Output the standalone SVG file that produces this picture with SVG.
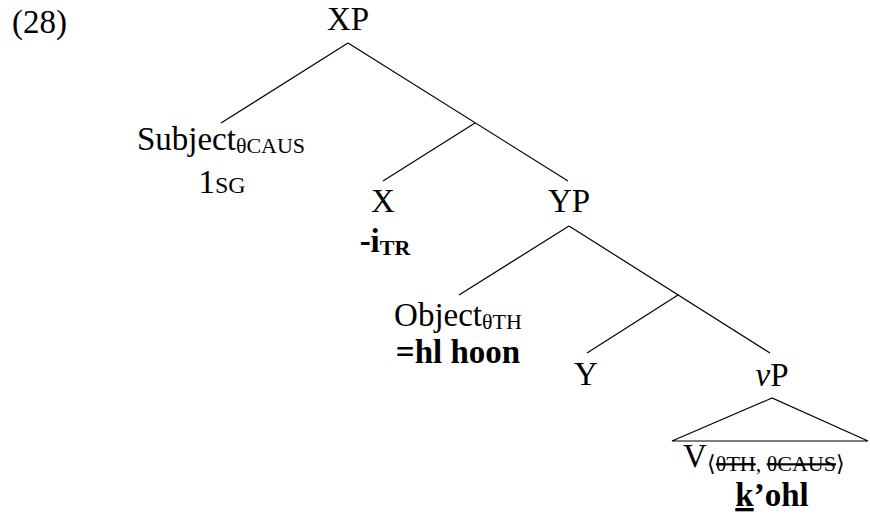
<svg xmlns="http://www.w3.org/2000/svg" width="870" height="519" viewBox="0 0 870 519">
<style>
text{font-family:"Liberation Serif","Times New Roman",serif;font-size:33px;fill:#000}
.m{text-anchor:middle}
.b{font-weight:bold}
.sub{font-size:22px}
.sc{font-size:24px}
.st{text-decoration:line-through}
.ul{text-decoration:underline}
#edges line,#edges polygon{stroke:#000;stroke-width:1.2;fill:none}
</style>
<rect width="870" height="519" fill="#fff"/>
<text x="12" y="33">(28)</text>
<g id="edges">
<line x1="348" y1="43" x2="221" y2="123"/>
<line x1="348" y1="43" x2="568" y2="181"/>
<line x1="475" y1="123" x2="383" y2="181"/>
<line x1="569" y1="226" x2="459" y2="295"/>
<line x1="569" y1="226" x2="770" y2="353"/>
<line x1="678" y1="295" x2="587" y2="353"/>
<polygon points="772,398 672,441 868,441"/>
</g>
<g id="XP"><text class="m" x="348" y="30">XP</text></g>
<g id="Subject"><text class="m" x="221" y="150">Subject<tspan class="sub" dy="3">θCAUS</tspan></text>
<text class="m" x="222" y="193">1<tspan class="sc">SG</tspan></text></g>
<g id="X"><text class="m" x="383" y="212">X</text>
<text class="m b" x="385" y="252">-i<tspan class="sub" dy="3">TR</tspan></text></g>
<g id="YP"><text class="m" x="569" y="212">YP</text></g>
<g id="Object"><text class="m" x="458" y="326">Object<tspan class="sub" dy="3">θTH</tspan></text>
<text class="m b" x="458" y="363">=hl hoon</text></g>
<g id="Y"><text class="m" x="586" y="385">Y</text></g>
<g id="vP"><text class="m" x="772" y="386"><tspan font-style="italic">v</tspan>P</text></g>
<g id="V"><text x="683" y="467">V<tspan class="sub" dy="4">⟨</tspan><tspan class="sub st">θTH</tspan><tspan class="sub">, </tspan><tspan class="sub st">θCAUS</tspan><tspan class="sub">⟩</tspan></text>
<text class="m b" x="772" y="506"><tspan class="ul">k</tspan>’ohl</text></g>
</svg>
